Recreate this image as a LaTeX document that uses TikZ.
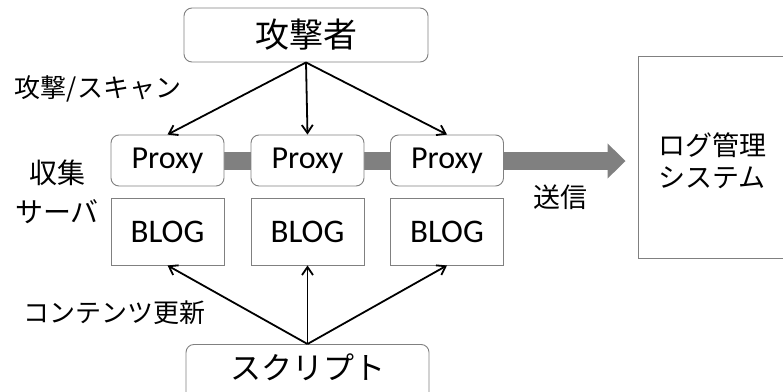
\documentclass[tikz,border=0pt]{standalone}
\usepackage{fontspec}
\setmainfont{Carlito}
\newfontfamily\jp{Noto Sans CJK JP}
\usetikzlibrary{arrows.meta}
\begin{document}
\begin{tikzpicture}[x=1pt,y=-1pt,
  gbox/.style={draw=black!50, line width=0.9pt, fill=white, inner sep=0pt},
  rbox/.style={gbox, rounded corners=8pt},
  conn/.style={line width=1.8pt, -{Straight Barb[length=8pt,width=11pt,line width=1.8pt]}},
  lbl/.style={font=\jp\fontsize{26}{39}\selectfont, inner sep=0pt}
]
\clip (0,0) rectangle (783,391);
\fill[white] (0,0) rectangle (783,391);

% top and bottom boxes
\node[rbox, minimum width=244pt, minimum height=54pt, font=\jp\fontsize{34}{40}\selectfont] (atk) at (306,35) {攻撃者};
\node[rbox, minimum width=243pt, anchor=north, text width=243pt, align=center,
      text height=35pt, text depth=35pt, font=\jp\fontsize{31}{36}\selectfont] (script) at (307.5,344) {スクリプト};

% log management system
\node[gbox, minimum width=182pt, minimum height=202pt] (logsys) at (729,157) {};
\node[lbl, font=\jp\fontsize{27}{32}\selectfont, align=left, anchor=west] (logtxt) at (658,161) {ログ管理\\システム};

% proxy boxes (band drawn first)
\coordinate (bandstart) at (167.5,161);
\draw[line width=18pt, color=black!50, -{Triangle[length=18pt,width=34pt]}] (bandstart) -- ([xshift=-12pt]bandstart -| logsys.west);

\foreach \i/\x in {1/167.5, 2/307.5, 3/447} {
  \node[rbox, minimum width=113pt, minimum height=51pt, font=\fontsize{32}{38}\selectfont] (p\i) at (\x,160.5) {Proxy};
  \node[gbox, minimum width=113pt, minimum height=67pt, font=\fontsize{33}{38}\selectfont] (b\i) at (\x,231.5) {BLOG};
}

% connectors
\foreach \i in {1,2,3} {
  \draw[conn] (atk.south) -- (p\i.north);
  \draw[conn] (script.north) -- (b\i.south);
}

% labels
\node[lbl] (lscan) at (98,89) {攻撃/スキャン};
\node[lbl, font=\jp\fontsize{28}{39}\selectfont, align=center] (lsrv) at (57,192) {収集\\サーバ};
\node[lbl] (lupd) at (114,313) {コンテンツ更新};
\node[lbl, font=\jp\fontsize{27}{32}\selectfont] (lsend) at (560,197) {送信};
\end{tikzpicture}
\end{document}
